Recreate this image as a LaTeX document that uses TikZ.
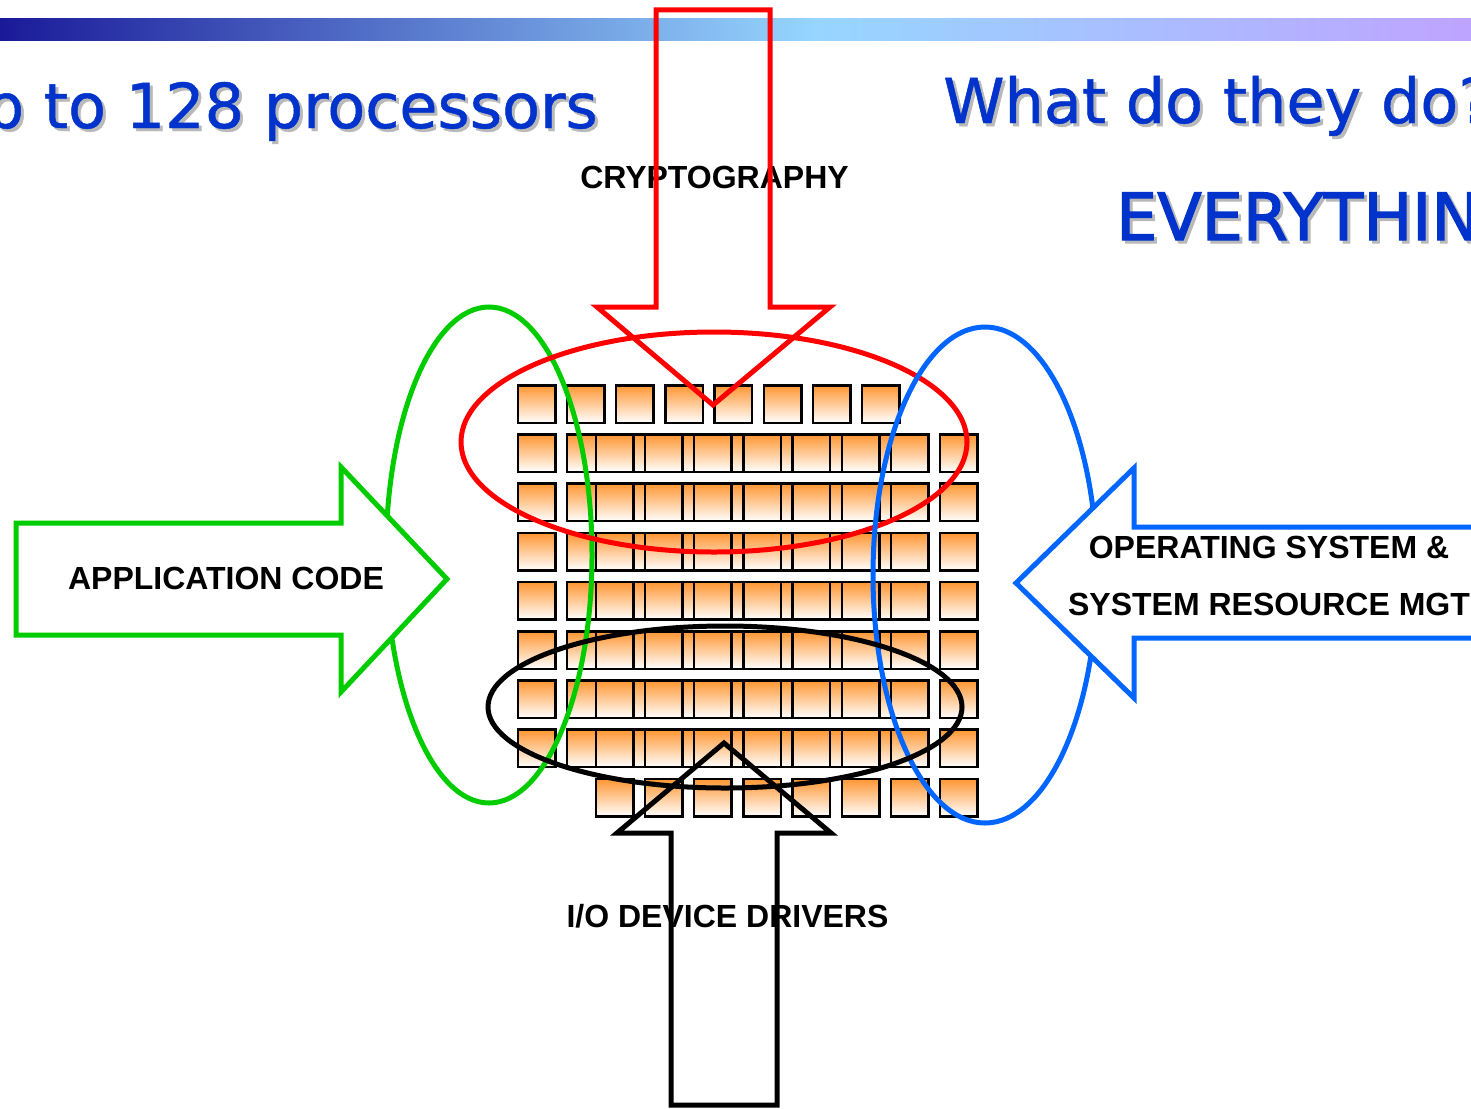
\documentclass[tikz,border=0pt]{standalone}
\usepackage{fontspec}
\newfontfamily\labelfont{Liberation Sans}
\newfontfamily\headfont{DejaVu Sans}[FakeBold=0.8]
\newfontfamily\shoutfont{DejaVu Sans}[FakeBold=2]
\usetikzlibrary{positioning}

\definecolor{cpuorange}{RGB}{255,150,50}
\definecolor{headblue}{RGB}{0,51,204}
\definecolor{headshadow}{RGB}{185,185,185}
\definecolor{barnavy}{RGB}{26,26,153}
\definecolor{barsky}{RGB}{150,214,255}
\definecolor{barlilac}{RGB}{190,164,255}
\definecolor{appgreen}{RGB}{0,204,0}
\definecolor{osblue}{RGB}{0,102,255}

% TikZ maps the middle 50bp of a 100bp shading onto the path
\pgfdeclarehorizontalshading{barshade}{100bp}{%
  color(0bp)=(barnavy); color(25bp)=(barnavy); color(52.75bp)=(barsky);
  color(75bp)=(barlilac); color(100bp)=(barlilac)}

\tikzset{
  cpu/.style={draw=black, line width=2.5pt, top color=cpuorange,
    bottom color=white, minimum size=37.5pt, inner sep=0pt, outer sep=0pt},
  tag/.style={font=\labelfont\bfseries\fontsize{32}{38}\selectfont,
    anchor=base, inner sep=0pt},
  headline/.style={font=\headfont\fontsize{62}{70}\selectfont,
    text=headblue, inner sep=0pt},
  headshade/.style={font=\headfont\fontsize{62}{70}\selectfont,
    text=headshadow, inner sep=0pt},
  shout/.style={font=\shoutfont\fontsize{65}{72}\selectfont,
    text=headblue, inner sep=0pt},
  shoutshade/.style={font=\shoutfont\fontsize{65}{72}\selectfont,
    text=headshadow, inner sep=0pt},
  bigarrow/.style={line width=5pt, line join=miter},
  ring/.style={line width=5pt}
}

\begin{document}
\begin{tikzpicture}[x=1pt, y=-1pt]
\useasboundingbox (0,0) rectangle (1471,1108);
\clip (0,0) rectangle (1471,1108);
\fill[white] (0,0) rectangle (1471,1108);

% title bar
\fill[shading=barshade] (0,19) rectangle (1471,41);

% headings with drop shadow
\node[headshade, anchor=base east] (hLs) at (601,131) {Up to 128 processors};
\node[headline, anchor=base east] (hL) at (598,128) {Up to 128 processors};
\node[headshade, anchor=base west] (hRs) at (946,126) {What do they do?};
\node[headline, anchor=base west] (hR) at (943,123) {What do they do?};
\node[shoutshade, anchor=base west] (hEs) at (1119,243) {EVERYTHING};
\node[shout, anchor=base west] (hE) at (1116,240) {EVERYTHING};

% processor array: lower layer (rows 0-7) and offset upper layer (rows 1-8)
\foreach \r in {0,...,7}
  \foreach \c in {0,...,7}
    \node[cpu] (pa-\r-\c) at ({536.5+49.2*\c},{404+49.2*\r}) {};
\foreach \r in {1,...,8}
  \foreach \c in {0,...,7}
    \node[cpu] (pb-\r-\c) at ({614.5+49.2*\c},{404+49.2*\r}) {};

% groupings of processors
\draw[ring, appgreen] (489,555) ellipse [x radius=103pt, y radius=248pt];
\draw[ring, red] (714,442) ellipse [x radius=253pt, y radius=110pt];
\draw[ring, osblue] (985,575) ellipse [x radius=112pt, y radius=248pt];
\draw[ring, black] (725,707) ellipse [x radius=237pt, y radius=81pt];

% application code (from the left)
\draw[bigarrow, appgreen, fill=white]
  (16,523) -- (341,523) -- (341,467) -- (447,579) -- (341,692)
  -- (341,635) -- (16,635) -- cycle;
\node[tag] (app) at (226,589) {APPLICATION CODE};

% operating system (from the right)
\draw[bigarrow, osblue, fill=white]
  (1016,583) -- (1134,468) -- (1134,527) -- (1490,527) -- (1490,638)
  -- (1134,638) -- (1134,698) -- cycle;
\node[tag] (os1) at (1269,558) {OPERATING SYSTEM \&};
\node[tag] (os2) at (1269,615) {SYSTEM RESOURCE MGT};

% cryptography (from the top)
\node[tag] (crypto) at (714.5,188) {CRYPTOGRAPHY};
\draw[bigarrow, red]
  (656,10) -- (770,10) -- (770,307) -- (830,307) -- (713,405)
  -- (597,307) -- (656,307) -- cycle;

% device drivers (from the bottom)
\node[tag] (io) at (727.5,927) {I/O DEVICE DRIVERS};
\draw[bigarrow, black]
  (671,1105) -- (671,833) -- (617,833) -- (724,743) -- (831,833)
  -- (777,833) -- (777,1105) -- cycle;
\end{tikzpicture}
\end{document}
